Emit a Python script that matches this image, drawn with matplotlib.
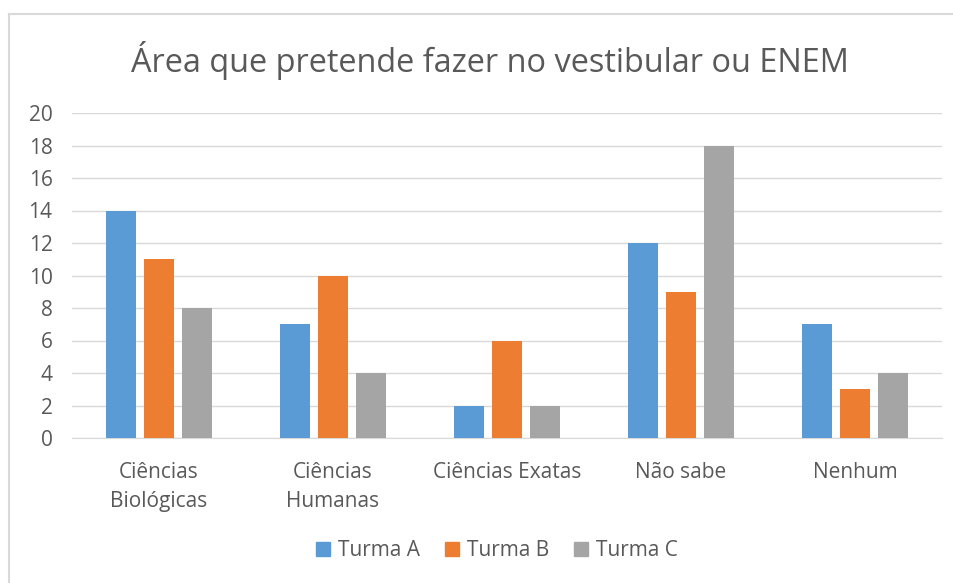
import matplotlib
matplotlib.use("Agg")
import matplotlib.pyplot as plt
import numpy as np
from matplotlib.lines import Line2D

categories = ["Ciências\nBiológicas", "Ciências\nHumanas", "Ciências Exatas", "Não sabe", "Nenhum"]
series_names = ["Turma A", "Turma B", "Turma C"]
turma_a = [14, 7, 2, 12, 7]
turma_b = [11, 10, 6, 9, 3]
turma_c = [8, 4, 2, 18, 4]
colors = ["#5b9bd5", "#ed7d31", "#a5a5a5"]
title = "Área que pretende fazer no vestibular ou ENEM"
yticks = [0, 2, 4, 6, 8, 10, 12, 14, 16, 18, 20]

plt.rcParams['font.family'] = ['Open Sans', 'DejaVu Sans']
txt = "#595959"

fig = plt.figure(figsize=(9.54, 5.83), dpi=100)
ax = fig.add_axes([72/954, 1-438/583, 870/954, 325/583])

x = np.arange(len(categories))
w = 0.172
step = 0.218
for i, (vals, name) in enumerate(zip([turma_a, turma_b, turma_c], series_names)):
    ax.bar(x + (i-1)*step, vals, width=w, color=colors[i], label=name, zorder=3)

ax.set_xlim(-0.5, len(categories)-0.5)
ax.set_ylim(0, 20)
ax.set_yticks(yticks)
ax.yaxis.grid(True, color="#d9d9d9", linewidth=1, zorder=0)
ax.set_axisbelow(True)
for s in ["top", "right", "left"]:
    ax.spines[s].set_visible(False)
ax.spines["bottom"].set_color("#d9d9d9")
ax.tick_params(axis="both", length=0, colors=txt, labelsize=15)
ax.tick_params(axis="y", pad=14)
ax.tick_params(axis="x", pad=17)
ax.set_xticks(x)
ax.set_xticklabels(categories, linespacing=1.55)
for lbl in ax.get_yticklabels():
    lbl.set_horizontalalignment("right")

fig.text(490/954, 1-60/583, title, ha="center", va="center", fontsize=23.4, color=txt)

handles = [plt.Rectangle((0, 0), 1, 1, color=c) for c in colors]
fig.legend(handles, series_names, loc="center", bbox_to_anchor=(497/954, 1-551/583),
           ncol=3, frameon=False, fontsize=15, labelcolor=txt, handlelength=0.65,
           handleheight=0.65, handletextpad=0.4, columnspacing=1.2)

# chart border (left and top edges visible)
fig.add_artist(Line2D([9/954, 9/954], [0, 1-14/583], transform=fig.transFigure, color="#d9d9d9", lw=1.5))
fig.add_artist(Line2D([9/954, 1], [1-14/583, 1-14/583], transform=fig.transFigure, color="#d9d9d9", lw=1.5))

fig.savefig("out.png", dpi=100, facecolor="white")
